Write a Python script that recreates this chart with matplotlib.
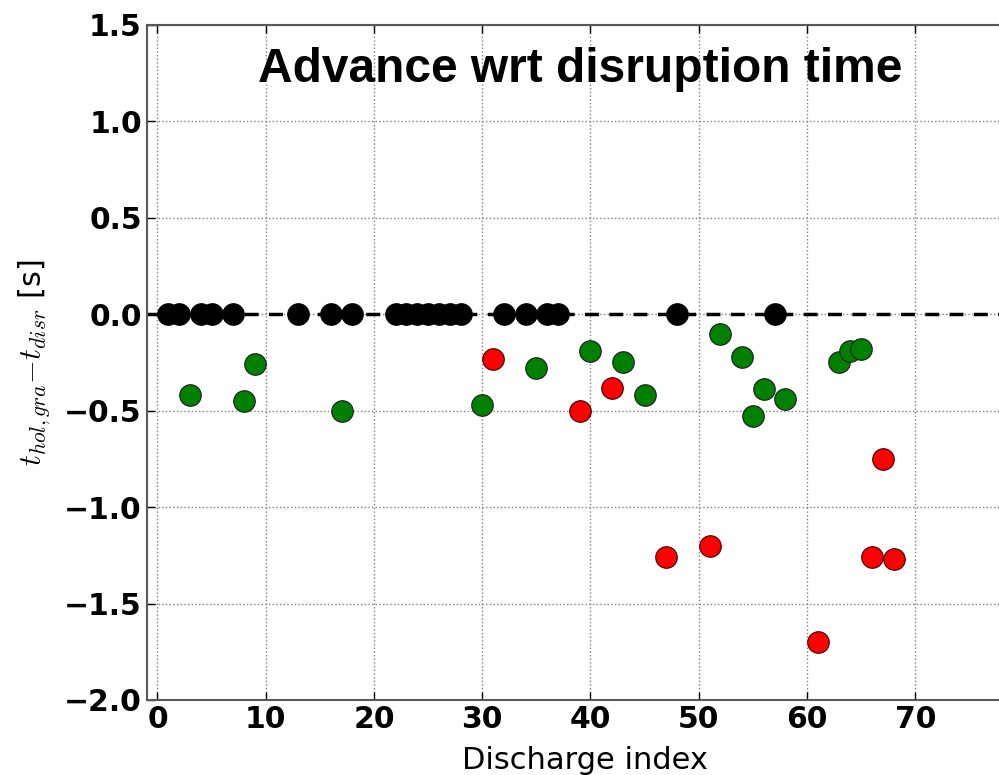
import numpy as np
from matplotlib import pyplot as plt

# discharges where nothing was detected (zero advance)
idx_black = [1, 2, 4, 5, 7, 13, 16, 18, 22, 23, 24, 25, 26, 27, 28, 32, 34, 36, 37, 48, 57]
adv_black = [0.0] * len(idx_black)

# in time detections
idx_green = [3, 8, 9, 17, 30, 35, 40, 43, 45, 52, 54, 55, 56, 58, 63, 64, 65]
adv_green = [-0.42, -0.45, -0.26, -0.50, -0.47, -0.28, -0.19, -0.25, -0.42, -0.10,
             -0.22, -0.53, -0.39, -0.44, -0.25, -0.19, -0.18]

# early detections
idx_red = [31, 39, 42, 47, 51, 61, 66, 67, 68]
adv_red = [-0.23, -0.50, -0.38, -1.26, -1.20, -1.70, -1.26, -0.75, -1.27]

plt.rcParams["mathtext.fontset"] = "cm"

fig = plt.figure(figsize=(9.99, 7.75), dpi=100)
ax = fig.add_axes([0.1468, 0.0968, 0.8777, 0.871])

ax.axhline(0, color='black', linestyle='--', linewidth=2.5, dashes=(4, 3), zorder=2)
ax.plot(idx_black, adv_black, 'o', color='black', markersize=15.5,
        markeredgecolor='black', markeredgewidth=0.8, zorder=3)
ax.plot(idx_green, adv_green, 'o', color='green', markersize=15.5,
        markeredgecolor='#1a1a1a', markeredgewidth=0.8, zorder=3)
ax.plot(idx_red, adv_red, 'o', color='red', markersize=15.5,
        markeredgecolor='#3a0000', markeredgewidth=0.8, zorder=3)

ax.set_xlim(-1, 80)
ax.set_ylim(-2.0, 1.5)
ax.set_xticks(np.arange(0, 80, 10))
ax.set_yticks(np.arange(-2.0, 1.51, 0.5))
ax.grid(True, color='gray', linestyle=':', linewidth=1)
ax.set_axisbelow(True)

ax.tick_params(direction='in', length=6, width=1, top=True, right=True, labelsize=21.5)
for lab in ax.get_xticklabels() + ax.get_yticklabels():
    lab.set_fontweight('bold')
for sp in ax.spines.values():
    sp.set_color('0.35')
    sp.set_linewidth(1.5)

ax.set_xlabel("Discharge index", fontsize=22, labelpad=9)
ax.set_ylabel(r"$t_{hol,gra}{-}t_{disr}$ [s]", fontsize=22, labelpad=8)

ax.text(0.127, 0.9156, "Advance wrt disruption time", transform=ax.transAxes,
        fontsize=34.5, fontweight='bold', family='Liberation Sans', va='baseline')

plt.savefig("out.png", dpi=100)
